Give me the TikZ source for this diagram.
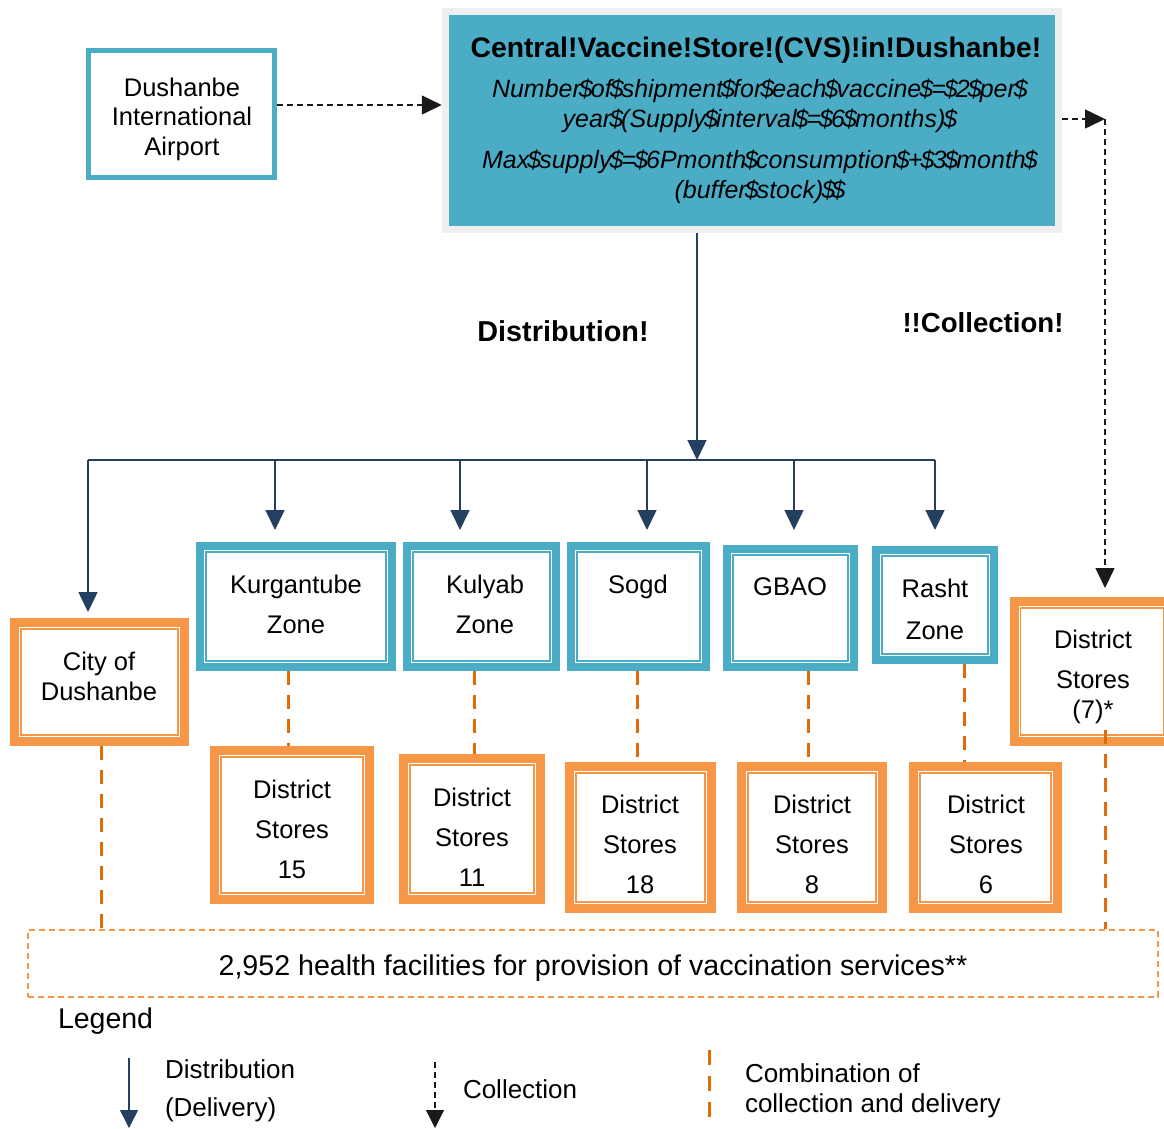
\documentclass[tikz,border=0pt]{standalone}
\usepackage{fontspec}
\setmainfont{Liberation Sans}
\usetikzlibrary{arrows.meta}
\newcommand{\dlr}{\makebox[0.4em][c]{\$}}
\definecolor{tealc}{HTML}{4BACC6}
\definecolor{orng}{HTML}{F79646}
\definecolor{orngd}{HTML}{E36C09}
\definecolor{navy}{HTML}{243F60}
\definecolor{grayb}{HTML}{EFEFEF}
\definecolor{blk}{HTML}{1A1A1A}
\begin{document}
\begin{tikzpicture}[x=1pt,y=-1pt,
  zbox/.style={draw=tealc, line width=8pt, fill=white},
  obox/.style={draw=orng, line width=9pt, fill=white},
  txt/.style={inner sep=0pt, outer sep=0pt, align=center, font=\fontsize{25.5}{40}\selectfont},
  btxt/.style={inner sep=0pt, outer sep=0pt, align=center, font=\fontsize{28.3}{33}\selectfont\bfseries},
  itxt/.style={inner sep=0pt, outer sep=0pt, align=center, font=\fontsize{25}{30}\selectfont\itshape},
  dist/.style={draw=navy, line width=1.5pt, -{Triangle[width=19pt,length=20pt,fill=navy]}},
  coll/.style={draw=blk, line width=1.5pt, dash pattern=on 6pt off 4pt, -{Triangle[width=19pt,length=20pt,fill=blk]}},
  comb/.style={draw=orngd, line width=3pt, dash pattern=on 14pt off 10pt},
  inline/.style={line width=1.5pt}
]
\useasboundingbox (0,0) rectangle (1164,1128);

% --- top boxes
\node[draw=tealc, line width=5pt, fill=white, minimum width=186pt, minimum height=127pt] (air) at (181.5,114) {};
\node[txt, font=\fontsize{25.5}{29.5}\selectfont] (airt) at (182,119) {Dushanbe\\International\\Airport};

\node[draw=grayb, fill=tealc, line width=7pt, minimum width=613pt, minimum height=218pt] (cvs) at (751.75,120.5) {};
\node[btxt] (cvst) at (756,50) {Central!Vaccine!Store!(CVS)!in!Dushanbe!};
\node[itxt] (cvsp1) at (759,106) {Number\dlr of\dlr shipment\dlr for\dlr each\dlr vaccine\dlr =\dlr 2\dlr per\dlr\\year\dlr(Supply\dlr interval\dlr =\dlr 6\dlr months)\dlr};
\node[itxt] (cvsp2) at (759,177) {Max\dlr supply\dlr =\dlr 6Pmonth\dlr consumption\dlr +\dlr 3\dlr month\dlr\\(buffer\dlr stock)\dlr\dlr};

% --- zone boxes
\node[zbox, minimum width=192pt, minimum height=121pt] (kur) at (296,606.5) {};
\node[zbox, minimum width=149pt, minimum height=121pt] (kul) at (481.5,606.5) {};
\node[zbox, minimum width=135pt, minimum height=121pt] (sogd) at (638.5,606.5) {};
\node[zbox, minimum width=127pt, minimum height=118pt] (gbao) at (790.5,608) {};
\node[zbox, minimum width=118pt, minimum height=110pt] (rasht) at (935,605) {};

% --- orange boxes
\node[obox, minimum width=170pt, minimum height=119pt] (city) at (99.5,682) {};
\node[obox, minimum width=156pt, minimum height=140pt] (ds7) at (1092,671.5) {};
\node[obox, minimum width=155pt, minimum height=149pt] (ds15) at (292,825) {};
\node[obox, minimum width=137pt, minimum height=141pt] (ds11) at (472,829) {};
\node[obox, minimum width=142pt, minimum height=142pt] (ds18) at (640.5,837.5) {};
\node[obox, minimum width=141pt, minimum height=142pt] (ds8) at (812,837.5) {};
\node[obox, minimum width=144pt, minimum height=142pt] (ds6) at (985.5,837.5) {};

\foreach \n in {kur,kul,sogd,gbao,rasht}
  \draw[tealc, inline] ([shift={(10,10)}]\n.north west) rectangle ([shift={(-10,-10)}]\n.south east);
\foreach \n in {city,ds7,ds15,ds11,ds18,ds8,ds6}
  \draw[orng, inline] ([shift={(11,11)}]\n.north west) rectangle ([shift={(-11,-11)}]\n.south east);

% --- box texts
\node[txt] (kurt) at (296,604) {Kurgantube\\Zone};
\node[txt] (kult) at (485,604) {Kulyab\\Zone};
\node[txt] (sogdt) at (638,587) {Sogd};
\node[txt] (gbaot) at (790,587) {GBAO};
\node[txt, font=\fontsize{25.5}{42}\selectfont] (rashtt) at (935,609) {Rasht\\Zone};
\node[txt, font=\fontsize{25.5}{30}\selectfont] (cityt) at (99,676) {City of\\Dushanbe};
\node[txt] (ds7t) at (1093,677) {District\\Stores\\[-10pt](7)*};
\node[txt] (ds15t) at (292,829) {District\\Stores\\15};
\node[txt] (ds11t) at (472,837) {District\\Stores\\11};
\node[txt] (ds18t) at (640,844) {District\\Stores\\18};
\node[txt] (ds8t) at (812,844) {District\\Stores\\8};
\node[txt] (ds6t) at (986,844) {District\\Stores\\6};

% --- health facilities
\node[draw=orng, line width=1.2pt, dash pattern=on 6pt off 4pt, minimum width=1130pt, minimum height=67pt] (hf) at (593,963.5) {};
\node[txt, font=\fontsize{28.6}{34}\selectfont] (hft) at (593,968) {2,952 health facilities for provision of vaccination services**};

% --- labels
\node[btxt, font=\fontsize{28.8}{33}\selectfont\bfseries] (distl) at (563,331) {Distribution!};
\node[btxt, font=\fontsize{27.6}{33}\selectfont\bfseries] (colll) at (983,323) {!!Collection!};

% --- collection connectors
\coordinate (a1) at ([yshift=9pt]air.east);
\draw[coll] (a1) -- (a1 -| cvs.west);
\coordinate (cc) at (1105,119);
\draw[coll] (cvs.east |- cc) -- (cc);
\draw[coll, shorten >=9pt] (cc) -- (cc |- ds7.north);

% --- distribution connectors
\coordinate (bus) at (697,460);
\draw[dist] (cvs.south -| bus) -- (bus);
\coordinate (busl) at (88,460);
\coordinate (busr) at (935,460);
\draw[navy, line width=1.5pt] (busl) -- (busr);
\draw[dist, shorten >=6pt] (busl) -- (busl |- city.north);
\coordinate (bk) at (275,460);
\coordinate (bkl) at (460,460);
\coordinate (bs) at (647,460);
\coordinate (bg) at (794,460);
\draw[dist, shorten >=12pt] (bk) -- (bk |- kur.north);
\draw[dist, shorten >=12pt] (bkl) -- (bkl |- kul.north);
\draw[dist, shorten >=12pt] (bs) -- (bs |- sogd.north);
\draw[dist, shorten >=15pt] (bg) -- (bg |- gbao.north);
\draw[dist, shorten >=16pt] (busr) -- (busr |- rasht.north);

% --- combination connectors
\draw[comb] (101,0 |- city.south) -- (101,0 |- hf.north);
\draw[comb] (288,0 |- kur.south) -- (288,0 |- ds15.north);
\draw[comb] (474,0 |- kul.south) -- (474,0 |- ds11.north);
\draw[comb] (637,0 |- sogd.south) -- (637,0 |- ds18.north);
\draw[comb] (808,0 |- gbao.south) -- (808,0 |- ds8.north);
\draw[comb] (964,0 |- rasht.south) -- (964,0 |- ds6.north);
\draw[comb] (1105,730) -- (1105,0 |- hf.north);

% --- legend
\node[txt, anchor=west, font=\fontsize{28.5}{34}\selectfont] (leg) at (58,1021) {Legend};
\coordinate (l1a) at (129,1058);
\coordinate (l1b) at (129,1128);
\draw[navy, line width=1.5pt, -{Triangle[width=18pt,length=18pt,fill=navy]}] (l1a) -- (l1b);
\node[txt, anchor=west, align=left, font=\fontsize{26}{38}\selectfont] (leg1) at (165,1091) {Distribution\\(Delivery)};
\coordinate (l2a) at (435,1062);
\coordinate (l2b) at (435,1128);
\draw[blk, line width=1.2pt, dash pattern=on 6pt off 4pt, -{Triangle[width=18pt,length=18pt,fill=blk]}] (l2a) -- (l2b);
\node[txt, anchor=west, font=\fontsize{26}{38}\selectfont] (leg2) at (463,1089) {Collection};
\coordinate (l3a) at (709,1050);
\coordinate (l3b) at (709,1118);
\draw[orngd, line width=3pt, dash pattern=on 15pt off 11pt] (l3a) -- (l3b);
\node[txt, anchor=west, align=left, font=\fontsize{26}{30}\selectfont] (leg3) at (745,1091) {Combination of\\collection and delivery};
\end{tikzpicture}
\end{document}
